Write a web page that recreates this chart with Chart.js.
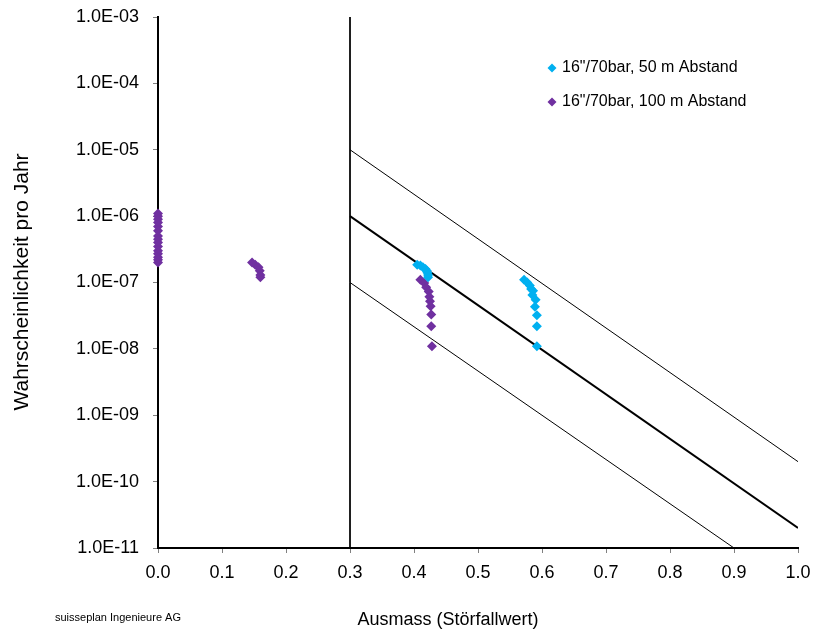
<!DOCTYPE html>
<html>
<head>
<meta charset="utf-8">
<script src="https://cdn.jsdelivr.net/npm/chart.js@4/dist/chart.umd.min.js"></script>
<style>
  html, body { margin: 0; padding: 0; background: #fff; }
  canvas { display: block; }
</style>
</head>
<body>
<canvas id="riskChart" width="814" height="633"></canvas>
<script>
// Series labels
const seriesNames = ['16"/70bar, 50 m Abstand', '16"/70bar, 100 m Abstand'];

// 16"/70bar, 50 m Abstand (cyan)
const x50 = [0.405, 0.410, 0.414, 0.418, 0.420, 0.421, 0.422, 0.422,
             0.572, 0.577, 0.581, 0.583, 0.586, 0.585, 0.590, 0.589, 0.592, 0.592, 0.592];
const y50 = [1.85e-7, 1.8e-7, 1.7e-7, 1.6e-7, 1.5e-7, 1.4e-7, 1.3e-7, 1.2e-7,
             1.1e-7, 1.0e-7, 9e-8, 8e-8, 7.5e-8, 6.5e-8, 5.5e-8, 4.3e-8, 3.2e-8, 2.2e-8, 1.1e-8];

// 16"/70bar, 100 m Abstand (purple)
const x100 = [0, 0, 0, 0, 0, 0, 0, 0, 0, 0, 0, 0, 0, 0, 0,
              0.147, 0.152, 0.157, 0.159, 0.160, 0.160,
              0.410, 0.416, 0.419, 0.423, 0.424, 0.425, 0.426, 0.427, 0.427, 0.428];
const y100 = [1.1e-6, 1.0e-6, 9e-7, 8e-7, 7e-7, 6e-7, 5e-7, 4.5e-7, 4e-7, 3.5e-7, 3e-7, 2.7e-7, 2.4e-7, 2.2e-7, 2.0e-7,
              2.0e-7, 1.85e-7, 1.7e-7, 1.5e-7, 1.3e-7, 1.2e-7,
              1.1e-7, 9.8e-8, 8.5e-8, 7.3e-8, 6.1e-8, 5.2e-8, 4.4e-8, 3.3e-8, 2.2e-8, 1.1e-8];

// Limit lines (criteria lines)
const vertX = [0.3, 0.3];
const vertY = [1e-3, 1e-11];
const upperX = [0.3, 1.0];
const upperY = [1e-5, 2e-10];
const middleX = [0.3, 1.0];
const middleY = [1e-6, 2e-11];
const lowerX = [0.3, 0.9];
const lowerY = [1e-7, 1e-11];

// Axis ticks
const xTickValues = [0, 0.1, 0.2, 0.3, 0.4, 0.5, 0.6, 0.7, 0.8, 0.9, 1.0];
const yTickValues = [1e-3, 1e-4, 1e-5, 1e-6, 1e-7, 1e-8, 1e-9, 1e-10, 1e-11];
const yTickLabels = ['1.0E-03', '1.0E-04', '1.0E-05', '1.0E-06', '1.0E-07', '1.0E-08', '1.0E-09', '1.0E-10', '1.0E-11'];

const colors = ['#00B0F0', '#7030A0'];
const FONT = '"Liberation Sans", Arial, sans-serif';

const toPoints = (xs, ys) => xs.map((x, i) => ({ x: x, y: ys[i] }));

function limitLine(xs, ys, width) {
    return {
        type: 'line',
        data: toPoints(xs, ys),
        borderColor: '#000',
        borderWidth: width,
        pointRadius: 0,
        fill: false,
        showLine: true
    };
}

// Texts drawn around the plot: axis titles, legend, footer
const extraText = {
    id: 'extraText',
    afterDraw(chart) {
        const ctx = chart.ctx;
        ctx.save();
        ctx.fillStyle = '#000';

        ctx.font = '18px ' + FONT;
        ctx.textAlign = 'center';
        ctx.textBaseline = 'middle';
        ctx.fillText('Ausmass (Störfallwert)', 448, 620);

        ctx.save();
        ctx.translate(22, 282);
        ctx.rotate(-Math.PI / 2);
        ctx.font = '21px ' + FONT;
        ctx.fillText('Wahrscheinlichkeit pro Jahr', 0, 0);
        ctx.restore();

        ctx.font = '11px ' + FONT;
        ctx.textAlign = 'left';
        ctx.fillText('suisseplan Ingenieure AG', 55, 618);

        // legend
        ctx.font = '16px ' + FONT;
        const legendY = [68, 102];
        seriesNames.forEach((name, i) => {
            const cx = 552, cy = legendY[i], r = 4.5;
            ctx.fillStyle = colors[i];
            ctx.beginPath();
            ctx.moveTo(cx, cy - r);
            ctx.lineTo(cx + r, cy);
            ctx.lineTo(cx, cy + r);
            ctx.lineTo(cx - r, cy);
            ctx.closePath();
            ctx.fill();
            ctx.fillStyle = '#000';
            ctx.fillText(name, 562, cy);
        });
        ctx.restore();
    }
};

new Chart(document.getElementById('riskChart'), {
    type: 'scatter',
    data: {
        datasets: [
            {
                label: seriesNames[0],
                data: toPoints(x50, y50),
                backgroundColor: colors[0],
                borderColor: colors[0],
                borderWidth: 0,
                pointStyle: 'rectRot',
                pointRadius: 5,
                clip: false
            },
            {
                label: seriesNames[1],
                data: toPoints(x100, y100),
                backgroundColor: colors[1],
                borderColor: colors[1],
                borderWidth: 0,
                pointStyle: 'rectRot',
                pointRadius: 5,
                clip: false
            },
            limitLine(vertX, vertY, 1),
            limitLine(upperX, upperY, 1),
            limitLine(middleX, middleY, 2),
            limitLine(lowerX, lowerY, 1)
        ]
    },
    options: {
        responsive: false,
        animation: false,
        layout: { padding: { left: 0, right: 16, top: 17, bottom: 0 } },
        plugins: {
            legend: { display: false },
            tooltip: { enabled: false }
        },
        scales: {
            x: {
                type: 'linear',
                min: 0,
                max: 1,
                afterBuildTicks: s => { s.ticks = xTickValues.map(v => ({ value: v })); },
                afterFit: s => { s.height = 85; s.paddingLeft = 0; s.paddingRight = 0; },
                grid: { drawOnChartArea: false, drawTicks: true, tickLength: 5, color: '#808080' },
                border: { display: true, color: '#000', width: 2 },
                ticks: {
                    color: '#000',
                    padding: 9,
                    font: { family: FONT, size: 18 },
                    callback: v => v.toFixed(1)
                }
            },
            y: {
                type: 'logarithmic',
                min: 1e-11,
                max: 1e-3,
                afterBuildTicks: s => { s.ticks = yTickValues.map(v => ({ value: v })); },
                afterFit: s => { s.width = 158; s.paddingTop = 0; s.paddingBottom = 0; },
                grid: { drawOnChartArea: false, drawTicks: true, tickLength: 5, color: '#808080' },
                border: { display: true, color: '#000', width: 2 },
                ticks: {
                    color: '#000',
                    padding: 14,
                    font: { family: FONT, size: 18 },
                    callback: (v, i) => yTickLabels[i]
                }
            }
        }
    },
    plugins: [extraText]
});
</script>
</body>
</html>
